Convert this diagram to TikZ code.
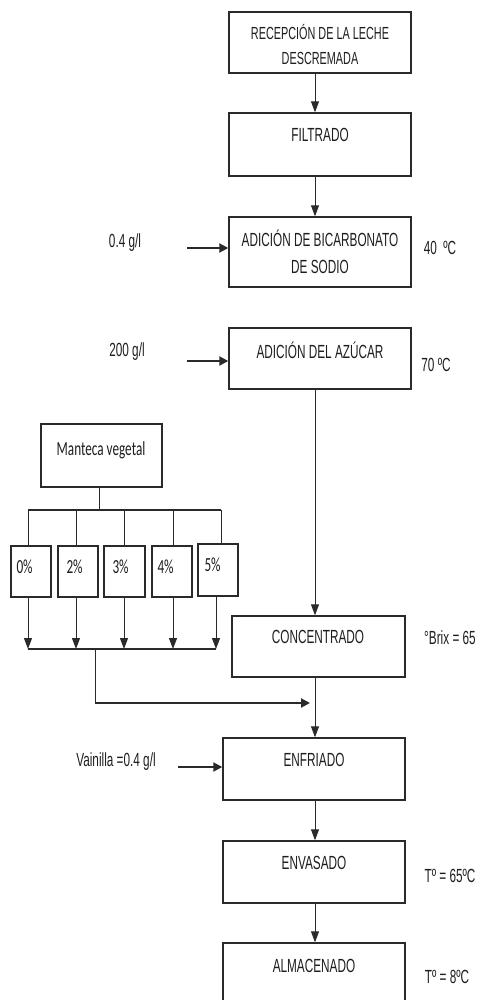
\documentclass[tikz,border=0pt]{standalone}
\usepackage{fontspec}
\setmainfont{Liberation Sans}
\newfontfamily\narrowf[FakeStretch=0.62]{Liberation Sans}
\newfontfamily\calf[FakeStretch=0.66]{Carlito}
\usetikzlibrary{arrows.meta,calc}
\definecolor{linec}{HTML}{2A2A2A}
\definecolor{txtc}{HTML}{1E1E1E}
\begin{document}
\begin{tikzpicture}[x=1pt,y=-1pt,
  box/.style={draw=linec, line width=1.4pt, inner sep=0pt},
  txt/.style={text=txtc, font=\narrowf\fontsize{19}{27}\selectfont, align=center, inner sep=0pt},
  smalltxt/.style={text=txtc, font=\narrowf\fontsize{17.5}{25}\selectfont, align=center, inner sep=0pt},
  caltxt/.style={text=txtc, font=\calf\fontsize{20}{24}\selectfont, inner sep=0pt},
  flow/.style={draw=linec, line width=1pt, -{Triangle[length=11pt,width=8pt]}},
  sidearrow/.style={draw=linec, line width=2pt, -{Triangle[length=9pt,width=9pt]}},
  thin/.style={draw=linec, line width=1pt},
  bar/.style={draw=linec, line width=1.4pt}]
\useasboundingbox (0,0) rectangle (479,1000);
\clip (0,0) rectangle (479,1000);
\fill[white] (0,0) rectangle (479,1000);

% main boxes
\node[box, minimum width=182pt, minimum height=61pt] (b1) at (320,42.5) {};
\node[box, minimum width=182pt, minimum height=63pt] (b2) at (320,144.5) {};
\node[box, minimum width=182pt, minimum height=70pt] (b3) at (320,252) {};
\node[box, minimum width=182pt, minimum height=61pt] (b4) at (320,358.5) {};
\node[box, minimum width=173pt, minimum height=61pt] (b5) at (318.5,646.5) {};
\node[box, minimum width=182pt, minimum height=62pt] (b6) at (314,769) {};
\node[box, minimum width=182pt, minimum height=62pt] (b7) at (314,872) {};
\node[box, minimum width=182pt, minimum height=62pt] (b8) at (314,974) {};

% main texts
\node[smalltxt] (t1) at (320,45) {RECEPCIÓN DE LA LECHE\\DESCREMADA};
\node[txt] (t2) at (320,135) {FILTRADO};
\node[txt] (t3) at (320,252) {ADICIÓN DE BICARBONATO\\DE SODIO};
\node[txt] (t4) at (320,350) {ADICIÓN DEL AZÚCAR};
\node[txt] (t5) at (318,637) {CONCENTRADO};
\node[txt] (t6) at (314,760) {ENFRIADO};
\node[txt] (t7) at (314,863) {ENVASADO};
\node[txt] (t8) at (314,966) {ALMACENADO};

% side labels
\node[txt] (l3) at (125,243) {0.4 g/l};
\node[txt] (r3) at (440,248) {40~~ºC};
\node[txt] (l4) at (127,352) {200 g/l};
\node[txt] (r4) at (436,365) {70 ºC};
\node[txt] (r5) at (450,638) {°Brix = 65};
\node[txt] (l6) at (116,762) {Vainilla =0.4 g/l};
\node[txt] (r7) at (450,876) {Tº = 65ºC};
\node[txt] (r8) at (447,977) {Tº = 8ºC};

% main flow
\coordinate (col) at (315,0);
\draw[flow] (b1.south -| col) -- (b2.north -| col);
\draw[flow] (b2.south -| col) -- (b3.north -| col);
\draw[flow] (b4.south -| col) -- (b5.north -| col);
\draw[flow] (b5.south -| col) -- (b6.north -| col);
\draw[flow] (b6.south -| col) -- (b7.north -| col);
\draw[flow] (b7.south -| col) -- (b8.north -| col);

% side inputs
\coordinate (a3) at (187,248);
\coordinate (a4) at (187,361);
\coordinate (a6) at (178,767);
\draw[sidearrow] (a3) -- (a3 -| b3.west);
\draw[sidearrow] (a4) -- (a4 -| b4.west);
\draw[sidearrow] (a6) -- (a6 -| b6.west);

% manteca vegetal
\node[box, minimum width=121pt, minimum height=63pt] (mv) at (101.5,455.5) {};
\node[caltxt] (mvt) at (101,450) {Manteca vegetal};

\node[box, minimum width=40pt, minimum height=51pt] (p0) at (31,571.5) {};
\node[box, minimum width=40pt, minimum height=51pt] (p2) at (78,571.5) {};
\node[box, minimum width=41pt, minimum height=51pt] (p3) at (124.5,571.5) {};
\node[box, minimum width=40pt, minimum height=51pt] (p4) at (172,571.5) {};
\node[box, minimum width=40pt, minimum height=52pt] (p5) at (218,570) {};

\node[caltxt, anchor=west] (q0) at ($(p0.west)+(6,-4.5)$) {0\%};
\node[caltxt, anchor=west] (q2) at ($(p2.west)+(9,-4.5)$) {2\%};
\node[caltxt, anchor=west] (q3) at ($(p3.west)+(9,-4.5)$) {3\%};
\node[caltxt, anchor=west] (q4) at ($(p4.west)+(6,-4.5)$) {4\%};
\node[caltxt, anchor=west] (q5) at ($(p5.west)+(7,-5)$) {5\%};

\coordinate (tb) at (99,510);
\coordinate (d0) at (28,510);
\coordinate (d1) at (76,510);
\coordinate (d2) at (124,510);
\coordinate (d3) at (173,510);
\coordinate (d4) at (221,510);
\draw[thin] (mv.south -| tb) -- (tb);
\draw[bar] (d0) -- (d4);
\draw[thin] (d0) -- (d0 |- p0.north);
\draw[thin] (d1) -- (d1 |- p2.north);
\draw[thin] (d2) -- (d2 |- p3.north);
\draw[thin] (d3) -- (d3 |- p4.north);
\draw[thin] (d4) -- (d4 |- p5.north);

\coordinate (e0) at (28,649);
\coordinate (e1) at (76,649);
\coordinate (e2) at (124,649);
\coordinate (e3) at (173,649);
\coordinate (e4) at (216,649);
\draw[flow] (e0 |- p0.south) -- (e0);
\draw[flow] (e1 |- p2.south) -- (e1);
\draw[flow] (e2 |- p3.south) -- (e2);
\draw[flow] (e3 |- p4.south) -- (e3);
\draw[flow] (e4 |- p5.south) -- (e4);
\draw[bar] (e0) -- (e4);

\coordinate (m) at (95,649);
\coordinate (jn) at (95,703);
\coordinate (jt) at (310,703);
\draw[thin] (m) -- (jn);
\draw[sidearrow] (jn) -- (jt);
\end{tikzpicture}
\end{document}
